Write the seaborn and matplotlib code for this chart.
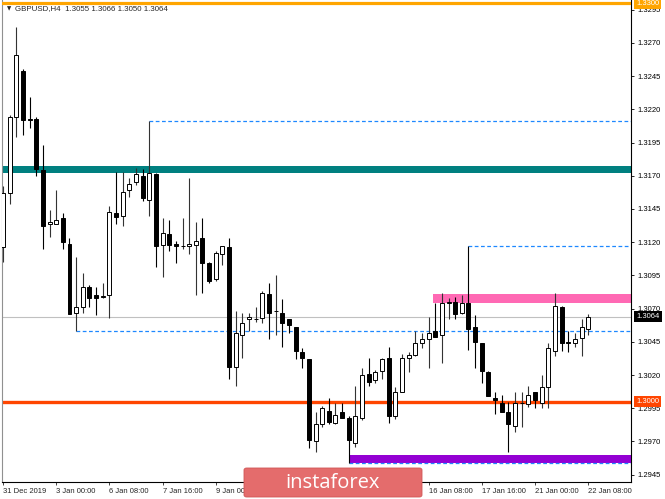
import numpy as np
import pandas as pd
import seaborn as sns
import matplotlib.pyplot as plt
from matplotlib.transforms import blended_transform_factory
from matplotlib.patches import FancyBboxPatch

# GBPUSD H4 candles
opens = [1.3116, 1.3157, 1.3214, 1.3249, 1.3213, 1.3213, 1.3174, 1.3134, 1.3134, 1.3138,
         1.3119, 1.3067, 1.3071, 1.3086, 1.3080, 1.3079, 1.3080, 1.3142, 1.3140, 1.3159,
         1.3165, 1.3170, 1.3152, 1.3171, 1.3118, 1.3126, 1.3119, 1.3117, 1.3117, 1.3118,
         1.3123, 1.3104, 1.3092, 1.3111, 1.3116, 1.3026, 1.3050, 1.3062, 1.3062, 1.3063,
         1.3081, 1.3068, 1.3067, 1.3062, 1.3056, 1.3037, 1.3032, 1.2970, 1.2983, 1.2993,
         1.2984, 1.2992, 1.2988, 1.2969, 1.2988, 1.3021, 1.3016, 1.3023, 1.3033, 1.2989,
         1.3007, 1.3033, 1.3035, 1.3044, 1.3047, 1.3053, 1.3050, 1.3074, 1.3075, 1.3067,
         1.3074, 1.3056, 1.3044, 1.3022, 1.3003, 1.2999, 1.2992, 1.2982, 1.2999, 1.2998,
         1.3007, 1.2999, 1.3011, 1.3038, 1.3071, 1.3045, 1.3044, 1.3048, 1.3055]
highs = [1.3162, 1.3216, 1.3282, 1.3250, 1.3229, 1.3214, 1.3193, 1.3144, 1.3159, 1.3142,
         1.3123, 1.3109, 1.3097, 1.3088, 1.3086, 1.3089, 1.3147, 1.3173, 1.3173, 1.3168,
         1.3176, 1.3175, 1.3211, 1.3172, 1.3138, 1.3137, 1.3121, 1.3138, 1.3168, 1.3135,
         1.3138, 1.3105, 1.3113, 1.3117, 1.3123, 1.3068, 1.3067, 1.3067, 1.3071, 1.3083,
         1.3089, 1.3095, 1.3077, 1.3062, 1.3056, 1.3040, 1.3032, 1.2992, 1.2997, 1.3003,
         1.2999, 1.2999, 1.2989, 1.3012, 1.3025, 1.3033, 1.3024, 1.3033, 1.3041, 1.3011,
         1.3036, 1.3037, 1.3053, 1.3052, 1.3064, 1.3074, 1.3082, 1.3078, 1.3079, 1.3080,
         1.3117, 1.3065, 1.3044, 1.3023, 1.3007, 1.3005, 1.3000, 1.3007, 1.3007, 1.3012,
         1.3007, 1.3020, 1.3044, 1.3082, 1.3072, 1.3053, 1.3052, 1.3062, 1.3066]
lows = [1.3105, 1.3149, 1.3199, 1.3201, 1.3206, 1.3170, 1.3115, 1.3124, 1.3134, 1.3115,
        1.3066, 1.3053, 1.3067, 1.3071, 1.3065, 1.3078, 1.3063, 1.3134, 1.3132, 1.3154,
        1.3163, 1.3151, 1.3140, 1.3101, 1.3094, 1.3113, 1.3104, 1.3115, 1.3111, 1.3080,
        1.3082, 1.3089, 1.3091, 1.3103, 1.3017, 1.3012, 1.3033, 1.3053, 1.3060, 1.3059,
        1.3047, 1.3050, 1.3041, 1.3052, 1.3032, 1.3025, 1.2965, 1.2962, 1.2981, 1.2983,
        1.2983, 1.2988, 1.2954, 1.2966, 1.2986, 1.3012, 1.3014, 1.3017, 1.2984, 1.2987,
        1.3007, 1.3022, 1.3034, 1.3040, 1.3025, 1.3049, 1.3029, 1.3062, 1.3062, 1.3066,
        1.3039, 1.3025, 1.3014, 1.3004, 1.2991, 1.2992, 1.2962, 1.2977, 1.2981, 1.2996,
        1.2995, 1.2995, 1.2995, 1.3034, 1.3038, 1.3037, 1.3041, 1.3034, 1.3050]
closes = [1.3157, 1.3214, 1.3261, 1.3212, 1.3212, 1.3175, 1.3132, 1.3135, 1.3137, 1.3120,
          1.3066, 1.3071, 1.3086, 1.3078, 1.3078, 1.3079, 1.3143, 1.3139, 1.3158, 1.3164,
          1.3171, 1.3153, 1.3172, 1.3117, 1.3127, 1.3118, 1.3117, 1.3117, 1.3119, 1.3121,
          1.3104, 1.3091, 1.3112, 1.3117, 1.3026, 1.3052, 1.3059, 1.3064, 1.3062, 1.3082,
          1.3067, 1.3068, 1.3059, 1.3058, 1.3038, 1.3033, 1.2971, 1.2983, 1.2995, 1.2985,
          1.2990, 1.2988, 1.2971, 1.2989, 1.3020, 1.3015, 1.3022, 1.3032, 1.2989, 1.3007,
          1.3033, 1.3035, 1.3044, 1.3047, 1.3052, 1.3049, 1.3074, 1.3075, 1.3066, 1.3074,
          1.3055, 1.3045, 1.3023, 1.3004, 1.3001, 1.2992, 1.2983, 1.2999, 1.2999, 1.3005,
          1.3001, 1.3011, 1.3040, 1.3072, 1.3044, 1.3044, 1.3047, 1.3056, 1.3064]

# time labels (bar index, text); the ones under the logo are not visible
date_idx = [0, 8, 16, 24, 32, 64, 72, 80, 88]
date_labels = ['31 Dec 2019', '3 Jan 00:00', '6 Jan 08:00', '7 Jan 16:00', '9 Jan 00:00',
               '16 Jan 08:00', '17 Jan 16:00', '21 Jan 00:00', '22 Jan 08:00']
price_ticks = [1.2945, 1.2970, 1.2995, 1.3020, 1.3045, 1.3070, 1.3095, 1.3120,
               1.3145, 1.3170, 1.3195, 1.3220, 1.3245, 1.3270, 1.3295]

# levels drawn on the chart
top_level = 1.3300
teal_zone = (1.3172, 1.3177)
pink_zone = (1.3074, 1.3081)
purple_zone = (1.2954, 1.2960)
round_level = 1.3000
last_price = 1.3064
dashed_levels = [(1.3211, 22), (1.3117, 70), (1.3053, 11), (1.2954, 52)]
pink_start, purple_start = 64.7, 52

sns.set_style('white')
plt.rcParams['font.family'] = ['Liberation Sans', 'DejaVu Sans']

df = pd.DataFrame({'o': opens, 'h': highs, 'l': lows, 'c': closes})
df['i'] = np.arange(len(df))
bull = df['c'] >= df['o']

fig = plt.figure(figsize=(6.65, 4.99), dpi=100)
ax = fig.add_axes([2 / 665, 17 / 499, 629 / 665, 482 / 499])
xmax = 94.44
ax.set_xlim(-0.15, xmax)
ax.set_ylim(1.293948, 1.330230)

# wicks and bodies
ax.vlines(df['i'], df['l'], df['h'], colors=np.where(bull, '#333333', 'black'),
          linewidth=0.8, zorder=3)
bottom = df[['o', 'c']].min(axis=1)
height = (df['c'] - df['o']).abs().clip(lower=0.00002)
ax.bar(df['i'], height, bottom=bottom, width=0.6,
       color=np.where(bull, 'white', 'black'), edgecolor='black', linewidth=0.7, zorder=4)

# levels and zones
ax.axhline(top_level, color='#ffa500', lw=2.3, zorder=5)
ax.axhspan(*teal_zone, color='#008080', lw=0, zorder=2)
ax.axhline(last_price, color='#c0c0c0', lw=0.8, zorder=1)
ax.axhline(round_level, color='#ff4500', lw=2.4, zorder=2)
ax.fill_between([pink_start, xmax], *pink_zone, color='#ff69b4', lw=0, zorder=2)
ax.fill_between([purple_start, xmax], *purple_zone, color='#9400d3', lw=0, zorder=2)
for lvl, start in dashed_levels:
    ax.hlines(lvl, start, xmax, colors='#1e88ff', linestyles=(0, (3, 2)), lw=0.9, zorder=2)

# axes look
ax.spines['top'].set_visible(False)
ax.spines['left'].set_color('#909090')
ax.spines['right'].set_color('black')
ax.spines['bottom'].set_color('black')
for s in ['left', 'right', 'bottom']:
    ax.spines[s].set_linewidth(0.8)

ax.yaxis.tick_right()
ax.set_yticks(price_ticks)
ax.set_yticklabels([f'{p:.4f}' for p in price_ticks])
ax.tick_params(axis='y', right=True, left=False, length=2.5, width=0.6, pad=2,
               labelsize=5.5, colors='black')
ax.set_xticks(date_idx)
ax.set_xticklabels(date_labels, ha='left')
ax.tick_params(axis='x', bottom=True, length=2.5, width=0.6, pad=1.5, labelsize=5.5)

# price boxes on the scale
trans = blended_transform_factory(ax.transAxes, ax.transData)
for val, col in [(top_level, '#ffa500'), (last_price, 'black'), (round_level, '#ff4500')]:
    ax.text(1.0 + 5 / 629, val, f'{val:.4f}', transform=trans, ha='left', va='center',
            fontsize=5.5, color='white', clip_on=False, zorder=10,
            bbox=dict(boxstyle='square,pad=0.3', fc=col, ec='none'))

# header
fig.text(7 / 665, 1 - 9 / 499, '\u25bc', fontsize=4, va='center', ha='left',
         family=['DejaVu Sans'])
fig.text(15 / 665, 1 - 9 / 499, 'GBPUSD,H4  1.3055 1.3066 1.3050 1.3064',
         fontsize=5.7, va='center', ha='left')

# watermark logo
logo = FancyBboxPatch((244 / 665, 2 / 499), 178 / 665, 29 / 499,
                      boxstyle='round,pad=0,rounding_size=0.004', transform=fig.transFigure,
                      fc='#e46c6c', ec='#d05555', lw=0.6, zorder=20)
fig.patches.append(logo)
fig.text(333 / 665, 1 - 483 / 499, 'instaforex', fontsize=14.5, color='white',
         ha='center', va='center', family=['Open Sans', 'DejaVu Sans'], zorder=21)

fig.savefig('out.png', dpi=100)
